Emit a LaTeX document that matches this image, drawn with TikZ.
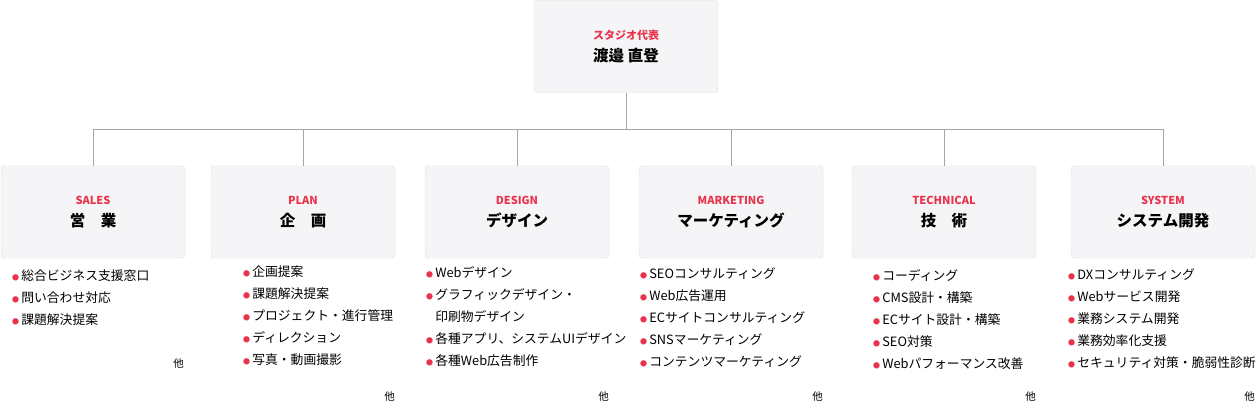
\documentclass[tikz,border=0pt]{standalone}
\usepackage{fontspec}
\setmainfont{Noto Sans CJK JP}
\usetikzlibrary{positioning}
\definecolor{accent}{HTML}{E8334A}
\definecolor{boxfill}{HTML}{F5F5F7}
\definecolor{boxline}{HTML}{DDDDDD}
\newcommand{\reddot}{{\color{accent}\fontsize{7}{7}\selectfont ●}\,}
\newcommand{\unitlabel}[2]{{\color{accent}\fontsize{11}{12}\selectfont\bfseries #1}\\[7pt]{\fontsize{15.5}{16}\selectfont\bfseries #2}}
\begin{document}
\begin{tikzpicture}[x=1pt,y=-1pt]

	\tikzstyle{dept}=[draw=boxline, fill=boxfill, rounded corners=3pt, minimum width=184pt, minimum height=92pt, align=center, inner sep=0];
	\tikzstyle{duty}=[anchor=north west, align=left, inner sep=0, font=\fontsize{12.8}{22}\selectfont];
	\tikzstyle{etc}=[anchor=south east, inner sep=0, font=\fontsize{10.5}{10}\selectfont];

	\useasboundingbox (0,0) rectangle (1256,403);

	\node (head) [dept] at (626,46.5) {\unitlabel{スタジオ代表}{渡邉 直登}};

	\node (sales) [dept] at (93,212) {\unitlabel{SALES}{営\quad 業}};
	\node (plan) [dept] at (303,212) {\unitlabel{PLAN}{企\quad 画}};
	\node (design) [dept] at (517,212) {\unitlabel{DESIGN}{デザイン}};
	\node (marketing) [dept] at (731,212) {\unitlabel{MARKETING}{マーケティング}};
	\node (technical) [dept] at (944,212) {\unitlabel{TECHNICAL}{技\quad 術}};
	\node (system) [dept] at (1163,212) {\unitlabel{SYSTEM}{システム開発}};

	\coordinate (fork) at (626,129);
	\draw [gray!70] (head.south) -- (fork);
	\draw [gray!70] (sales.north |- fork) -- (system.north |- fork);
	\foreach \d in {sales, plan, design, marketing, technical, system}
		\draw [gray!70] (\d.north |- fork) -- (\d.north);

	\node (sales list) [duty] at (12,270) {\reddot 総合ビジネス支援窓口\\ \reddot 問い合わせ対応\\ \reddot 課題解決提案};
	\node (plan list) [duty] at (243,266) {\reddot 企画提案\\ \reddot 課題解決提案\\ \reddot プロジェクト・進行管理\\ \reddot ディレクション\\ \reddot 写真・動画撮影};
	\node (design list) [duty] at (426,266) {\reddot Webデザイン\\ \reddot グラフィックデザイン・\\ \phantom{\reddot}印刷物デザイン\\ \reddot 各種アプリ、システムUIデザイン\\ \reddot 各種Web広告制作};
	\node (marketing list) [duty] at (640,268) {\reddot SEOコンサルティング\\ \reddot Web広告運用\\ \reddot ECサイトコンサルティング\\ \reddot SNSマーケティング\\ \reddot コンテンツマーケティング};
	\node (technical list) [duty] at (873,269) {\reddot コーディング\\ \reddot CMS設計・構築\\ \reddot ECサイト設計・構築\\ \reddot SEO対策\\ \reddot Webパフォーマンス改善};
	\node (system list) [duty] at (1068,269) {\reddot DXコンサルティング\\ \reddot Webサービス開発\\ \reddot 業務システム開発\\ \reddot 業務効率化支援\\ \reddot セキュリティ対策・脆弱性診断};

	\node (sales etc) [etc] at (184,369) {他};
	\node (plan etc) [etc] at (395,402) {他};
	\node (design etc) [etc] at (609,402) {他};
	\node (marketing etc) [etc] at (823,402) {他};
	\node (technical etc) [etc] at (1036,402) {他};
	\node (system etc) [etc] at (1255,402) {他};

\end{tikzpicture}
\end{document}
